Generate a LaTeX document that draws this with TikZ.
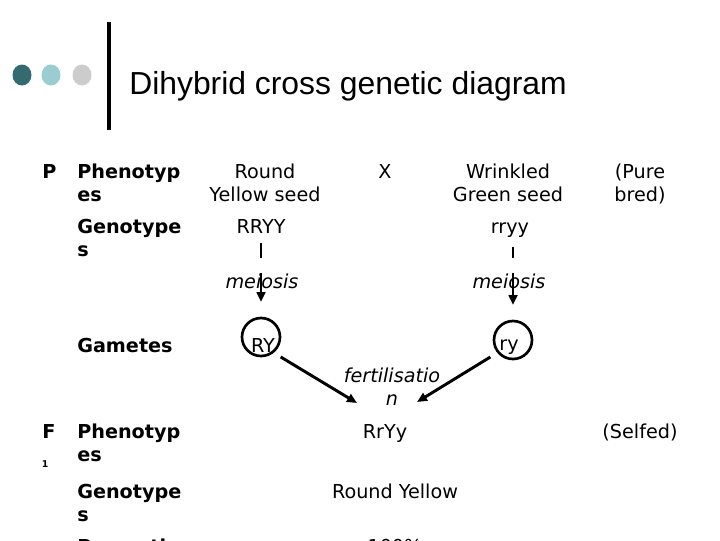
\documentclass[tikz,border=0pt]{standalone}
\usepackage{fontspec}
\setmainfont{DejaVu Sans}
\newfontfamily\titlefont{Liberation Sans}
\usetikzlibrary{arrows.meta}
\definecolor{dotdark}{HTML}{336B70}
\definecolor{dotlight}{HTML}{9ACDD2}
\definecolor{dotgrey}{HTML}{CCCCCC}
\newcommand\bodysize{\fontsize{14.4}{17.2}\selectfont}

\begin{document}
\begin{tikzpicture}[x=0.75pt,y=-0.75pt,>={Triangle[length=7.5pt,width=6.5pt]},
  every node/.style={inner sep=0pt,font=\bodysize},
  rowlbl/.style={anchor=base west,align=left,font=\bodysize\bfseries},
  cell/.style={anchor=base,align=center},
  slanted/.style={cell,font=\bodysize\itshape},
  gamete/.style={circle,draw,line width=2pt,minimum size=28.5pt},
  stem/.style={line width=2.2pt},
  fert/.style={line width=2.2pt,->,shorten <=6pt}]
  \useasboundingbox (0,0) rectangle (720,540);
  \clip (0,0) rectangle (720,540);

  % heading
  \foreach \xx/\cc in {22/dotdark,51/dotlight,82/dotgrey}
    \fill[\cc] (\xx,75) ellipse [x radius=9.5,y radius=10.5];
  \draw[line width=2.3pt] (109,22) -- (109,130);
  \node[anchor=base west,font=\titlefont\fontsize{23.9}{28}\selectfont]
    (title) at (129,94) {Dihybrid cross genetic diagram};

  % parents (two-line nodes sit on their last line)
  \node[rowlbl] (pP) at (42,178) {P};
  \node[rowlbl] (pPhen) at (77,201) {Phenotyp\\es};
  \node[cell] (pRound) at (265,201) {Round\\Yellow seed};
  \node[cell] (cross) at (385,178) {X};
  \node[cell] (pWrink) at (508,201) {Wrinkled\\Green seed};
  \node[cell] (pure) at (640,201) {(Pure\\bred)};

  \node[rowlbl] (pGeno) at (77,256) {Genotype\\s};
  \node[cell] (RRYY) at (261,233) {RRYY};
  \node[cell] (rryy) at (510,233) {rryy};

  \node[slanted] (meiL) at (262,288) {meiosis};
  \node[slanted] (meiR) at (509,288) {meiosis};

  \node[rowlbl] (gam) at (77,352) {Gametes};
  \node[gamete] (gRY) at (261,337) {};
  \node[gamete] (gry) at (513,340) {};
  \node[cell] (tRY) at (263,352) {RY};
  \node[cell] (try) at (509,350) {ry};

  \draw[stem,shorten <=7pt,shorten >=11pt] (RRYY.south) -- (meiL.north -| RRYY.south);
  \draw[stem,->,shorten >=11pt] (meiL.north -| gRY) -- (gRY.north);
  \draw[stem,shorten <=7pt,shorten >=11pt] (rryy.south -| gry) -- (meiR.north -| gry);
  \draw[stem,->,shorten >=11pt] (meiR.north -| gry) -- (gry.north);

  % fertilisation
  \coordinate (fL) at (357,403);
  \coordinate (fR) at (417,402);
  \draw[fert] (gRY.-51) -- (fL);
  \draw[fert] (gry.-141) -- (fR);
  \node[slanted] (fert) at (392,405) {fertilisatio\\n};

  % offspring
  \node[rowlbl] (fF) at (42,438) {F};
  \node[anchor=base,font=\bfseries\fontsize{7}{8}\selectfont] (fOne) at (45,467) {1};
  \node[rowlbl] (fPhen) at (77,461) {Phenotyp\\es};
  \node[cell] (RrYy) at (385,438) {RrYy};
  \node[cell] (selfed) at (640,438) {(Selfed)};
  \node[rowlbl] (fGeno) at (77,521) {Genotype\\s};
  \node[cell] (rndyel) at (395,498) {Round Yellow};
  \node[rowlbl] (fProp) at (77,576) {Proporti\\ons};
  \node[cell] (pct) at (395,553) {100\%};
\end{tikzpicture}
\end{document}
